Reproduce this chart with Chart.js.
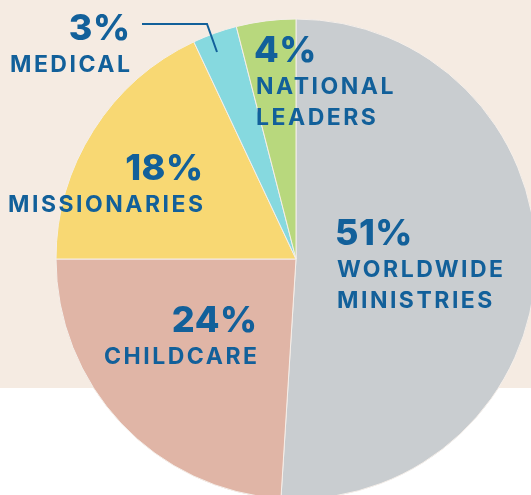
<!DOCTYPE html>
<html>
<head>
<meta charset="utf-8">
<script src="https://cdn.jsdelivr.net/npm/chart.js@4.4.1/dist/chart.umd.min.js"></script>
<style>
  html, body { margin: 0; padding: 0; width: 531px; height: 495px; overflow: hidden; }
  body { background: linear-gradient(to bottom, #f5ebe2 0px, #f5ebe2 388px, #ffffff 388px); position: relative; }
  #wrap { position: absolute; left: 0; top: 0; width: 592px; height: 518px; }
</style>
</head>
<body>
<div id="wrap"><canvas id="pie"></canvas></div>
<script>
// data
const categories = ["WORLDWIDE MINISTRIES", "CHILDCARE", "MISSIONARIES", "MEDICAL", "NATIONAL LEADERS"];
const shares = [51, 24, 18, 3, 4];
const sliceColors = ["#c9cdd0", "#e0b5a6", "#f8d873", "#86d9df", "#b8d87d"];

const blue = "#12609a";

// where each label block sits (anchor x, baseline of the % line)
const labelLayout = [
  { lines: ["WORLDWIDE", "MINISTRIES"], x: 335, y: 245, align: "left" },
  { lines: ["CHILDCARE"], x: 257, y: 332, align: "right" },
  { lines: ["MISSIONARIES"], x: 203, y: 180, align: "right" },
  { lines: ["MEDICAL"], x: 130, y: 40, align: "right" },
  { lines: ["NATIONAL", "LEADERS"], x: 254, y: 62, align: "left" }
];

function drawText(ctx, text, x, y, align, font, spacing) {
  ctx.font = font;
  ctx.letterSpacing = spacing + "px";
  const w = ctx.measureText(text).width - spacing;
  ctx.textAlign = "left";
  ctx.fillText(text, align === "right" ? x - w : x, y);
}

const labelPlugin = {
  id: "labels",
  afterDatasetsDraw(chart) {
    const ctx = chart.ctx;
    ctx.save();
    ctx.fillStyle = blue;
    ctx.textBaseline = "alphabetic";
    labelLayout.forEach((l, i) => {
      drawText(ctx, shares[i] + "%", l.x, l.y, l.align, "800 36px Inter", 0.5);
      l.lines.forEach((t, j) => {
        drawText(ctx, t, l.x + (l.align === "left" ? 2 : 0), l.y + 32 + j * 31, l.align, "700 23px Inter", 2.5);
      });
    });
    // leader line for medical
    ctx.strokeStyle = blue;
    ctx.lineWidth = 2;
    ctx.beginPath();
    ctx.moveTo(142, 24);
    ctx.lineTo(207, 24);
    ctx.lineTo(217, 52);
    ctx.stroke();
    ctx.restore();
  }
};

new Chart(document.getElementById("pie"), {
  type: "pie",
  data: {
    labels: categories,
    datasets: [{
      data: shares,
      backgroundColor: sliceColors,
      borderColor: "#f4eee9",
      borderWidth: 1
    }]
  },
  options: {
    responsive: true,
    maintainAspectRatio: false,
    animation: false,
    radius: 240,
    layout: { padding: 0 },
    plugins: {
      legend: { display: false },
      tooltip: { enabled: false }
    }
  },
  plugins: [labelPlugin]
});
</script>
</body>
</html>
